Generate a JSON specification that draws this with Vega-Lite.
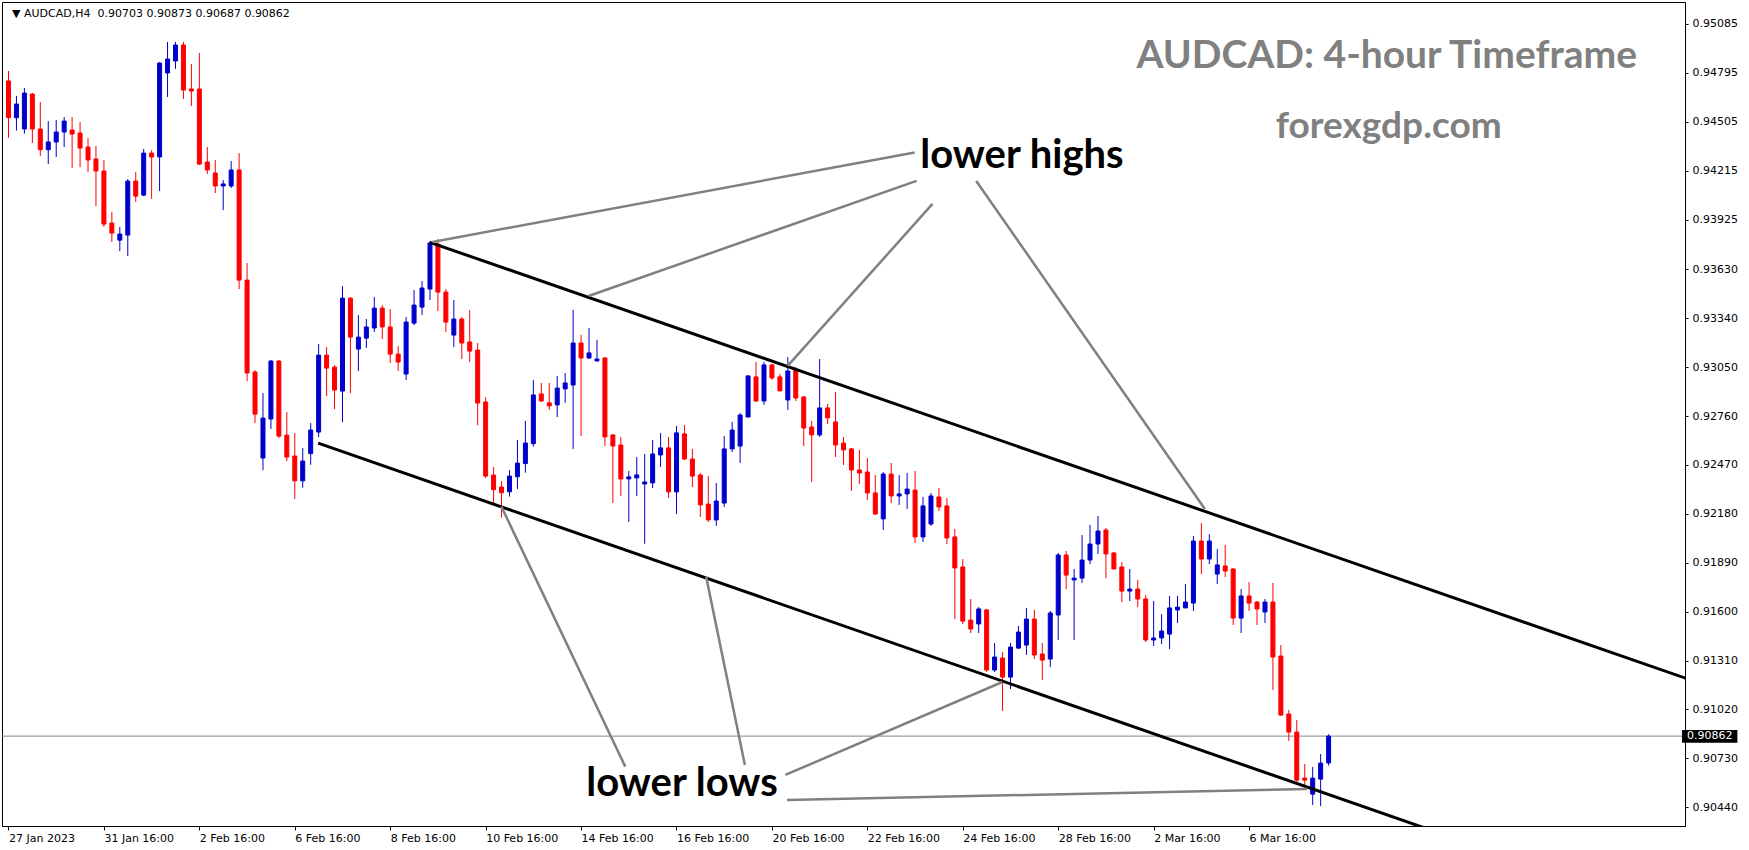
{
"$schema": "https://vega.github.io/schema/vega-lite/v6.json",
"autosize": {"type": "none"},
"padding": {"left": 2, "top": 2, "right": 64, "bottom": 24},
"width": 1683,
"height": 824,
"background": "white",
"config": {
"view": {"stroke": "black", "strokeWidth": 1},
"axis": {"grid": false, "labelFont": "DejaVu Sans", "labelFontSize": 11, "labelColor": "black", "tickColor": "black", "domainColor": "black", "labelOverlap": false, "labelFlush": false},
"axisX": {"tickSize": 4, "labelAlign": "left", "labelBaseline": "top", "labelPadding": 2},
"axisY": {"tickSize": 3, "labelPadding": 4}
},
"datasets": {
"candles": [
{"i":0,"o":0.94747,"h":0.94806,"l":0.94410,"c":0.94529},
{"i":1,"o":0.94529,"h":0.94658,"l":0.94452,"c":0.94610},
{"i":2,"o":0.94462,"h":0.94705,"l":0.94434,"c":0.94675},
{"i":3,"o":0.94669,"h":0.94677,"l":0.94379,"c":0.94462},
{"i":4,"o":0.94462,"h":0.94622,"l":0.94302,"c":0.94339},
{"i":5,"o":0.94339,"h":0.94509,"l":0.94254,"c":0.94385},
{"i":6,"o":0.94385,"h":0.94515,"l":0.94296,"c":0.94444},
{"i":7,"o":0.94444,"h":0.94533,"l":0.94355,"c":0.94509},
{"i":8,"o":0.94456,"h":0.94533,"l":0.94231,"c":0.94432},
{"i":9,"o":0.94438,"h":0.94503,"l":0.94236,"c":0.94349},
{"i":10,"o":0.94355,"h":0.94408,"l":0.94207,"c":0.94278},
{"i":11,"o":0.94284,"h":0.94361,"l":0.94005,"c":0.94213},
{"i":12,"o":0.94213,"h":0.94278,"l":0.93881,"c":0.93898},
{"i":13,"o":0.93904,"h":0.93970,"l":0.93792,"c":0.93845},
{"i":14,"o":0.93803,"h":0.93881,"l":0.93738,"c":0.93839},
{"i":15,"o":0.93833,"h":0.94165,"l":0.93709,"c":0.94153},
{"i":16,"o":0.94153,"h":0.94207,"l":0.94029,"c":0.94064},
{"i":17,"o":0.94070,"h":0.94343,"l":0.94064,"c":0.94319},
{"i":18,"o":0.94319,"h":0.94337,"l":0.94047,"c":0.94296},
{"i":19,"o":0.94296,"h":0.94859,"l":0.94094,"c":0.94853},
{"i":20,"o":0.94794,"h":0.94978,"l":0.94652,"c":0.94877},
{"i":21,"o":0.94865,"h":0.94978,"l":0.94818,"c":0.94960},
{"i":22,"o":0.94960,"h":0.94978,"l":0.94640,"c":0.94693},
{"i":23,"o":0.94699,"h":0.94847,"l":0.94598,"c":0.94687},
{"i":24,"o":0.94699,"h":0.94913,"l":0.94248,"c":0.94254},
{"i":25,"o":0.94266,"h":0.94355,"l":0.94195,"c":0.94219},
{"i":26,"o":0.94201,"h":0.94278,"l":0.94082,"c":0.94124},
{"i":27,"o":0.94124,"h":0.94159,"l":0.93981,"c":0.94136},
{"i":28,"o":0.94124,"h":0.94272,"l":0.94112,"c":0.94219},
{"i":29,"o":0.94219,"h":0.94319,"l":0.93513,"c":0.93566},
{"i":30,"o":0.93566,"h":0.93667,"l":0.92967,"c":0.93015},
{"i":31,"o":0.93021,"h":0.93033,"l":0.92718,"c":0.92771},
{"i":32,"o":0.92511,"h":0.92896,"l":0.92439,"c":0.92748},
{"i":33,"o":0.92742,"h":0.93092,"l":0.92683,"c":0.93086},
{"i":34,"o":0.93086,"h":0.93092,"l":0.92629,"c":0.92641},
{"i":35,"o":0.92647,"h":0.92783,"l":0.92493,"c":0.92517},
{"i":36,"o":0.92523,"h":0.92659,"l":0.92268,"c":0.92376},
{"i":37,"o":0.92376,"h":0.92570,"l":0.92335,"c":0.92493},
{"i":38,"o":0.92537,"h":0.92718,"l":0.92471,"c":0.92677},
{"i":39,"o":0.92665,"h":0.93187,"l":0.92635,"c":0.93121},
{"i":40,"o":0.93121,"h":0.93169,"l":0.92878,"c":0.93044},
{"i":41,"o":0.93050,"h":0.93062,"l":0.92801,"c":0.92914},
{"i":42,"o":0.92908,"h":0.93531,"l":0.92724,"c":0.93459},
{"i":43,"o":0.93459,"h":0.93465,"l":0.92896,"c":0.93228},
{"i":44,"o":0.93157,"h":0.93359,"l":0.93027,"c":0.93228},
{"i":45,"o":0.93222,"h":0.93335,"l":0.93163,"c":0.93288},
{"i":46,"o":0.93282,"h":0.93465,"l":0.93258,"c":0.93400},
{"i":47,"o":0.93400,"h":0.93418,"l":0.93216,"c":0.93288},
{"i":48,"o":0.93288,"h":0.93394,"l":0.93074,"c":0.93127},
{"i":49,"o":0.93127,"h":0.93175,"l":0.93027,"c":0.93080},
{"i":50,"o":0.93009,"h":0.93347,"l":0.92973,"c":0.93317},
{"i":51,"o":0.93311,"h":0.93507,"l":0.93299,"c":0.93418},
{"i":52,"o":0.93406,"h":0.93560,"l":0.93359,"c":0.93519},
{"i":53,"o":0.93513,"h":0.93798,"l":0.93448,"c":0.93786},
{"i":54,"o":0.93780,"h":0.93809,"l":0.93382,"c":0.93495},
{"i":55,"o":0.93495,"h":0.93513,"l":0.93258,"c":0.93317},
{"i":56,"o":0.93240,"h":0.93448,"l":0.93169,"c":0.93335},
{"i":57,"o":0.93335,"h":0.93347,"l":0.93098,"c":0.93193},
{"i":58,"o":0.93199,"h":0.93388,"l":0.93080,"c":0.93145},
{"i":59,"o":0.93151,"h":0.93193,"l":0.92706,"c":0.92837},
{"i":60,"o":0.92843,"h":0.92872,"l":0.92392,"c":0.92404},
{"i":61,"o":0.92410,"h":0.92457,"l":0.92242,"c":0.92323},
{"i":62,"o":0.92339,"h":0.92375,"l":0.92157,"c":0.92305},
{"i":63,"o":0.92311,"h":0.92440,"l":0.92282,"c":0.92404},
{"i":64,"o":0.92400,"h":0.92618,"l":0.92327,"c":0.92481},
{"i":65,"o":0.92478,"h":0.92731,"l":0.92424,"c":0.92600},
{"i":66,"o":0.92596,"h":0.92974,"l":0.92578,"c":0.92885},
{"i":67,"o":0.92891,"h":0.92956,"l":0.92843,"c":0.92849},
{"i":68,"o":0.92838,"h":0.92956,"l":0.92796,"c":0.92820},
{"i":69,"o":0.92826,"h":0.92998,"l":0.92754,"c":0.92926},
{"i":70,"o":0.92921,"h":0.93015,"l":0.92838,"c":0.92956},
{"i":71,"o":0.92944,"h":0.93389,"l":0.92565,"c":0.93193},
{"i":72,"o":0.93193,"h":0.93241,"l":0.92642,"c":0.93104},
{"i":73,"o":0.93104,"h":0.93282,"l":0.93098,"c":0.93134},
{"i":74,"o":0.93087,"h":0.93211,"l":0.93081,"c":0.93098},
{"i":75,"o":0.93104,"h":0.93110,"l":0.92582,"c":0.92636},
{"i":76,"o":0.92648,"h":0.92648,"l":0.92244,"c":0.92582},
{"i":77,"o":0.92588,"h":0.92636,"l":0.92286,"c":0.92387},
{"i":78,"o":0.92387,"h":0.92434,"l":0.92132,"c":0.92399},
{"i":79,"o":0.92393,"h":0.92517,"l":0.92286,"c":0.92411},
{"i":80,"o":0.92357,"h":0.92535,"l":0.92003,"c":0.92369},
{"i":81,"o":0.92363,"h":0.92618,"l":0.92333,"c":0.92535},
{"i":82,"o":0.92529,"h":0.92660,"l":0.92458,"c":0.92571},
{"i":83,"o":0.92571,"h":0.92636,"l":0.92274,"c":0.92310},
{"i":84,"o":0.92310,"h":0.92701,"l":0.92179,"c":0.92660},
{"i":85,"o":0.92654,"h":0.92707,"l":0.92499,"c":0.92505},
{"i":86,"o":0.92505,"h":0.92565,"l":0.92339,"c":0.92404},
{"i":87,"o":0.92410,"h":0.92422,"l":0.92161,"c":0.92233},
{"i":88,"o":0.92238,"h":0.92405,"l":0.92132,"c":0.92144},
{"i":89,"o":0.92144,"h":0.92363,"l":0.92108,"c":0.92256},
{"i":90,"o":0.92244,"h":0.92642,"l":0.92221,"c":0.92565},
{"i":91,"o":0.92565,"h":0.92725,"l":0.92547,"c":0.92677},
{"i":92,"o":0.92582,"h":0.92778,"l":0.92482,"c":0.92766},
{"i":93,"o":0.92754,"h":0.92998,"l":0.92754,"c":0.92998},
{"i":94,"o":0.92992,"h":0.93081,"l":0.92843,"c":0.92849},
{"i":95,"o":0.92849,"h":0.93081,"l":0.92826,"c":0.93063},
{"i":96,"o":0.93063,"h":0.93069,"l":0.92974,"c":0.92986},
{"i":97,"o":0.92992,"h":0.93010,"l":0.92909,"c":0.92909},
{"i":98,"o":0.92855,"h":0.93110,"l":0.92796,"c":0.93027},
{"i":99,"o":0.93033,"h":0.93051,"l":0.92849,"c":0.92867},
{"i":100,"o":0.92873,"h":0.92879,"l":0.92582,"c":0.92689},
{"i":101,"o":0.92695,"h":0.92731,"l":0.92369,"c":0.92648},
{"i":102,"o":0.92648,"h":0.93098,"l":0.92636,"c":0.92808},
{"i":103,"o":0.92808,"h":0.92832,"l":0.92713,"c":0.92749},
{"i":104,"o":0.92725,"h":0.92903,"l":0.92517,"c":0.92588},
{"i":105,"o":0.92600,"h":0.92636,"l":0.92470,"c":0.92559},
{"i":106,"o":0.92565,"h":0.92571,"l":0.92316,"c":0.92440},
{"i":107,"o":0.92440,"h":0.92559,"l":0.92357,"c":0.92422},
{"i":108,"o":0.92428,"h":0.92511,"l":0.92262,"c":0.92304},
{"i":109,"o":0.92304,"h":0.92410,"l":0.92173,"c":0.92179},
{"i":110,"o":0.92150,"h":0.92428,"l":0.92084,"c":0.92416},
{"i":111,"o":0.92416,"h":0.92482,"l":0.92244,"c":0.92286},
{"i":112,"o":0.92286,"h":0.92410,"l":0.92233,"c":0.92298},
{"i":113,"o":0.92298,"h":0.92422,"l":0.92209,"c":0.92327},
{"i":114,"o":0.92321,"h":0.92434,"l":0.92007,"c":0.92043},
{"i":115,"o":0.92043,"h":0.92280,"l":0.92013,"c":0.92227},
{"i":116,"o":0.92120,"h":0.92304,"l":0.92108,"c":0.92286},
{"i":117,"o":0.92280,"h":0.92333,"l":0.92197,"c":0.92221},
{"i":118,"o":0.92227,"h":0.92274,"l":0.92001,"c":0.92037},
{"i":119,"o":0.92043,"h":0.92090,"l":0.91556,"c":0.91859},
{"i":120,"o":0.91865,"h":0.91912,"l":0.91527,"c":0.91544},
{"i":121,"o":0.91550,"h":0.91675,"l":0.91473,"c":0.91497},
{"i":122,"o":0.91527,"h":0.91627,"l":0.91473,"c":0.91616},
{"i":123,"o":0.91610,"h":0.91616,"l":0.91242,"c":0.91254},
{"i":124,"o":0.91254,"h":0.91414,"l":0.91242,"c":0.91331},
{"i":125,"o":0.91325,"h":0.91361,"l":0.91011,"c":0.91212},
{"i":126,"o":0.91212,"h":0.91414,"l":0.91141,"c":0.91390},
{"i":127,"o":0.91384,"h":0.91515,"l":0.91378,"c":0.91479},
{"i":128,"o":0.91402,"h":0.91622,"l":0.91343,"c":0.91556},
{"i":129,"o":0.91556,"h":0.91610,"l":0.91319,"c":0.91343},
{"i":130,"o":0.91349,"h":0.91414,"l":0.91195,"c":0.91313},
{"i":131,"o":0.91319,"h":0.91604,"l":0.91272,"c":0.91592},
{"i":132,"o":0.91580,"h":0.91948,"l":0.91432,"c":0.91936},
{"i":133,"o":0.91936,"h":0.91960,"l":0.91734,"c":0.91817},
{"i":134,"o":0.91788,"h":0.91853,"l":0.91432,"c":0.91799},
{"i":135,"o":0.91799,"h":0.92054,"l":0.91770,"c":0.91906},
{"i":136,"o":0.91906,"h":0.92114,"l":0.91882,"c":0.92001},
{"i":137,"o":0.92001,"h":0.92167,"l":0.91942,"c":0.92078},
{"i":138,"o":0.92084,"h":0.92096,"l":0.91799,"c":0.91942},
{"i":139,"o":0.91948,"h":0.91954,"l":0.91853,"c":0.91853},
{"i":140,"o":0.91865,"h":0.91894,"l":0.91657,"c":0.91722},
{"i":141,"o":0.91722,"h":0.91853,"l":0.91663,"c":0.91734},
{"i":142,"o":0.91734,"h":0.91788,"l":0.91627,"c":0.91675},
{"i":143,"o":0.91675,"h":0.91699,"l":0.91420,"c":0.91432},
{"i":144,"o":0.91432,"h":0.91663,"l":0.91396,"c":0.91444},
{"i":145,"o":0.91444,"h":0.91586,"l":0.91408,"c":0.91485},
{"i":146,"o":0.91467,"h":0.91693,"l":0.91378,"c":0.91622},
{"i":147,"o":0.91610,"h":0.91693,"l":0.91533,"c":0.91627},
{"i":148,"o":0.91622,"h":0.91764,"l":0.91622,"c":0.91657},
{"i":149,"o":0.91651,"h":0.92049,"l":0.91604,"c":0.92019},
{"i":150,"o":0.92019,"h":0.92126,"l":0.91823,"c":0.91912},
{"i":151,"o":0.91912,"h":0.92060,"l":0.91882,"c":0.92019},
{"i":152,"o":0.91823,"h":0.91971,"l":0.91764,"c":0.91877},
{"i":153,"o":0.91871,"h":0.91995,"l":0.91805,"c":0.91841},
{"i":154,"o":0.91853,"h":0.91859,"l":0.91521,"c":0.91562},
{"i":155,"o":0.91562,"h":0.91734,"l":0.91473,"c":0.91693},
{"i":156,"o":0.91693,"h":0.91776,"l":0.91604,"c":0.91651},
{"i":157,"o":0.91657,"h":0.91663,"l":0.91521,"c":0.91616},
{"i":158,"o":0.91598,"h":0.91675,"l":0.91533,"c":0.91657},
{"i":159,"o":0.91657,"h":0.91770,"l":0.91135,"c":0.91331},
{"i":160,"o":0.91337,"h":0.91402,"l":0.90981,"c":0.90987},
{"i":161,"o":0.90993,"h":0.91017,"l":0.90833,"c":0.90886},
{"i":162,"o":0.90886,"h":0.90957,"l":0.90578,"c":0.90601},
{"i":163,"o":0.90613,"h":0.90696,"l":0.90572,"c":0.90601},
{"i":164,"o":0.90518,"h":0.90679,"l":0.90453,"c":0.90613},
{"i":165,"o":0.90607,"h":0.90756,"l":0.90447,"c":0.90702},
{"i":166,"o":0.90703,"h":0.90873,"l":0.90687,"c":0.90862}
],
"channels": [
{"id":"upper","i":52.98,"p":0.93790},
{"id":"upper","i":215,"p":0.91138},
{"id":"lower","i":38.94,"p":0.92599},
{"id":"lower","i":180,"p":0.90286}
],
"pointers": [
{"id":"g1","i":53.31,"p":0.93792},{"id":"g1","i":113.94,"p":0.94323},
{"id":"g2","i":72.94,"p":0.93472},{"id":"g2","i":114.19,"p":0.94154},
{"id":"g3","i":97.98,"p":0.93057},{"id":"g3","i":116.19,"p":0.94018},
{"id":"g4","i":121.69,"p":0.94154},{"id":"g4","i":150.44,"p":0.92209},
{"id":"g5","i":61.98,"p":0.92223},{"id":"g5","i":77.56,"p":0.90681},
{"id":"g6","i":87.73,"p":0.91807},{"id":"g6","i":92.6,"p":0.90691},
{"id":"g7","i":97.69,"p":0.90632},{"id":"g7","i":124.98,"p":0.91183},
{"id":"g8","i":97.9,"p":0.90483},{"id":"g8","i":163.31,"p":0.90549}
]
},
"layer": [
{
"data": {"values": [{"p": 0.90862, "i": 100}]},
"mark": {"type": "rule", "color": "#778899", "strokeWidth": 1},
"encoding": {
"y": {"field": "p", "type": "quantitative",
"scale": {"domain": [0.90329, 0.95215], "nice": false, "zero": false},
"axis": {"orient": "right", "title": null,
"values": [0.95085,0.94795,0.94505,0.94215,0.93925,0.93630,0.93340,0.93050,0.92760,0.92470,0.92180,0.91890,0.91600,0.91310,0.91020,0.90730,0.90440],
"format": ".5f"}}
}
},
{
"data": {"name": "candles"},
"mark": {"type": "rule", "strokeWidth": 1},
"encoding": {
"x": {"field": "i", "type": "quantitative",
"scale": {"domain": [-0.1875, 210.1875], "nice": false, "zero": false},
"axis": {"title": null,
"values": [0,12,24,36,48,60,72,84,96,108,120,132,144,156],
"labelExpr": "['27 Jan 2023','31 Jan 16:00','2 Feb 16:00','6 Feb 16:00','8 Feb 16:00','10 Feb 16:00','14 Feb 16:00','16 Feb 16:00','20 Feb 16:00','22 Feb 16:00','24 Feb 16:00','28 Feb 16:00','2 Mar 16:00','6 Mar 16:00'][round(datum.value/12)]"}},
"y": {"field": "l", "type": "quantitative",
"scale": {"domain": [0.90329, 0.95215], "nice": false, "zero": false},
"axis": {"orient": "right", "title": null,
"values": [0.95085,0.94795,0.94505,0.94215,0.93925,0.93630,0.93340,0.93050,0.92760,0.92470,0.92180,0.91890,0.91600,0.91310,0.91020,0.90730,0.90440],
"format": ".5f"}},
"y2": {"field": "h"},
"color": {"condition": {"test": "datum.c >= datum.o", "value": "#0000cc"}, "value": "#ff0000"}
}
},
{
"data": {"name": "candles"},
"mark": {"type": "bar", "size": 4, "strokeWidth": 1},
"encoding": {
"x": {"field": "i", "type": "quantitative",
"scale": {"domain": [-0.1875, 210.1875], "nice": false, "zero": false},
"axis": {"title": null,
"values": [0,12,24,36,48,60,72,84,96,108,120,132,144,156],
"labelExpr": "['27 Jan 2023','31 Jan 16:00','2 Feb 16:00','6 Feb 16:00','8 Feb 16:00','10 Feb 16:00','14 Feb 16:00','16 Feb 16:00','20 Feb 16:00','22 Feb 16:00','24 Feb 16:00','28 Feb 16:00','2 Mar 16:00','6 Mar 16:00'][round(datum.value/12)]"}},
"y": {"field": "o", "type": "quantitative",
"scale": {"domain": [0.90329, 0.95215], "nice": false, "zero": false},
"axis": {"orient": "right", "title": null,
"values": [0.95085,0.94795,0.94505,0.94215,0.93925,0.93630,0.93340,0.93050,0.92760,0.92470,0.92180,0.91890,0.91600,0.91310,0.91020,0.90730,0.90440],
"format": ".5f"}},
"y2": {"field": "c"},
"fill": {"condition": {"test": "datum.c >= datum.o", "value": "#0000cc"}, "value": "#ff0000"},
"stroke": {"condition": {"test": "datum.c >= datum.o", "value": "#0000cc"}, "value": "#ff0000"}
}
},
{
"data": {"name": "channels"},
"mark": {"type": "line", "color": "black", "strokeWidth": 3, "clip": true},
"encoding": {
"x": {"field": "i", "type": "quantitative",
"scale": {"domain": [-0.1875, 210.1875], "nice": false, "zero": false},
"axis": {"title": null,
"values": [0,12,24,36,48,60,72,84,96,108,120,132,144,156],
"labelExpr": "['27 Jan 2023','31 Jan 16:00','2 Feb 16:00','6 Feb 16:00','8 Feb 16:00','10 Feb 16:00','14 Feb 16:00','16 Feb 16:00','20 Feb 16:00','22 Feb 16:00','24 Feb 16:00','28 Feb 16:00','2 Mar 16:00','6 Mar 16:00'][round(datum.value/12)]"}},
"y": {"field": "p", "type": "quantitative",
"scale": {"domain": [0.90329, 0.95215], "nice": false, "zero": false},
"axis": {"orient": "right", "title": null,
"values": [0.95085,0.94795,0.94505,0.94215,0.93925,0.93630,0.93340,0.93050,0.92760,0.92470,0.92180,0.91890,0.91600,0.91310,0.91020,0.90730,0.90440],
"format": ".5f"}},
"detail": {"field": "id"}
}
},
{
"data": {"name": "pointers"},
"mark": {"type": "line", "color": "#808080", "strokeWidth": 2.5, "clip": true},
"encoding": {
"x": {"field": "i", "type": "quantitative",
"scale": {"domain": [-0.1875, 210.1875], "nice": false, "zero": false},
"axis": {"title": null,
"values": [0,12,24,36,48,60,72,84,96,108,120,132,144,156],
"labelExpr": "['27 Jan 2023','31 Jan 16:00','2 Feb 16:00','6 Feb 16:00','8 Feb 16:00','10 Feb 16:00','14 Feb 16:00','16 Feb 16:00','20 Feb 16:00','22 Feb 16:00','24 Feb 16:00','28 Feb 16:00','2 Mar 16:00','6 Mar 16:00'][round(datum.value/12)]"}},
"y": {"field": "p", "type": "quantitative",
"scale": {"domain": [0.90329, 0.95215], "nice": false, "zero": false},
"axis": {"orient": "right", "title": null,
"values": [0.95085,0.94795,0.94505,0.94215,0.93925,0.93630,0.93340,0.93050,0.92760,0.92470,0.92180,0.91890,0.91600,0.91310,0.91020,0.90730,0.90440],
"format": ".5f"}},
"detail": {"field": "id"}
}
},
{
"data": {"values": [{"i": 127.44, "p": 0.94229, "t": "lower highs"}, {"i": 84.69, "p": 0.90507, "t": "lower lows"}]},
"mark": {"type": "text", "font": "Lato", "fontWeight": "bold", "fontSize": 40, "color": "black", "align": "center", "baseline": "alphabetic"},
"encoding": {
"x": {"field": "i", "type": "quantitative",
"scale": {"domain": [-0.1875, 210.1875], "nice": false, "zero": false},
"axis": {"title": null,
"values": [0,12,24,36,48,60,72,84,96,108,120,132,144,156],
"labelExpr": "['27 Jan 2023','31 Jan 16:00','2 Feb 16:00','6 Feb 16:00','8 Feb 16:00','10 Feb 16:00','14 Feb 16:00','16 Feb 16:00','20 Feb 16:00','22 Feb 16:00','24 Feb 16:00','28 Feb 16:00','2 Mar 16:00','6 Mar 16:00'][round(datum.value/12)]"}},
"y": {"field": "p", "type": "quantitative",
"scale": {"domain": [0.90329, 0.95215], "nice": false, "zero": false},
"axis": {"orient": "right", "title": null,
"values": [0.95085,0.94795,0.94505,0.94215,0.93925,0.93630,0.93340,0.93050,0.92760,0.92470,0.92180,0.91890,0.91600,0.91310,0.91020,0.90730,0.90440],
"format": ".5f"}},
"text": {"field": "t"}
}
},
{
"data": {"values": [{"i": 173.31, "p": 0.94824, "t": "AUDCAD: 4-hour Timeframe"}]},
"mark": {"type": "text", "font": "Lato", "fontWeight": "bold", "fontSize": 39, "color": "#808080", "align": "center", "baseline": "alphabetic"},
"encoding": {
"x": {"field": "i", "type": "quantitative",
"scale": {"domain": [-0.1875, 210.1875], "nice": false, "zero": false},
"axis": {"title": null,
"values": [0,12,24,36,48,60,72,84,96,108,120,132,144,156],
"labelExpr": "['27 Jan 2023','31 Jan 16:00','2 Feb 16:00','6 Feb 16:00','8 Feb 16:00','10 Feb 16:00','14 Feb 16:00','16 Feb 16:00','20 Feb 16:00','22 Feb 16:00','24 Feb 16:00','28 Feb 16:00','2 Mar 16:00','6 Mar 16:00'][round(datum.value/12)]"}},
"y": {"field": "p", "type": "quantitative",
"scale": {"domain": [0.90329, 0.95215], "nice": false, "zero": false},
"axis": {"orient": "right", "title": null,
"values": [0.95085,0.94795,0.94505,0.94215,0.93925,0.93630,0.93340,0.93050,0.92760,0.92470,0.92180,0.91890,0.91600,0.91310,0.91020,0.90730,0.90440],
"format": ".5f"}},
"text": {"field": "t"}
}
},
{
"data": {"values": [{"i": 173.56, "p": 0.94411, "t": "forexgdp.com"}]},
"mark": {"type": "text", "font": "Lato", "fontWeight": "bold", "fontSize": 37, "color": "#808080", "align": "center", "baseline": "alphabetic"},
"encoding": {
"x": {"field": "i", "type": "quantitative",
"scale": {"domain": [-0.1875, 210.1875], "nice": false, "zero": false},
"axis": {"title": null,
"values": [0,12,24,36,48,60,72,84,96,108,120,132,144,156],
"labelExpr": "['27 Jan 2023','31 Jan 16:00','2 Feb 16:00','6 Feb 16:00','8 Feb 16:00','10 Feb 16:00','14 Feb 16:00','16 Feb 16:00','20 Feb 16:00','22 Feb 16:00','24 Feb 16:00','28 Feb 16:00','2 Mar 16:00','6 Mar 16:00'][round(datum.value/12)]"}},
"y": {"field": "p", "type": "quantitative",
"scale": {"domain": [0.90329, 0.95215], "nice": false, "zero": false},
"axis": {"orient": "right", "title": null,
"values": [0.95085,0.94795,0.94505,0.94215,0.93925,0.93630,0.93340,0.93050,0.92760,0.92470,0.92180,0.91890,0.91600,0.91310,0.91020,0.90730,0.90440],
"format": ".5f"}},
"text": {"field": "t"}
}
},
{
"data": {"values": [{"i": 0.44, "p": 0.95141, "t": "▼ AUDCAD,H4\u00a0\u00a00.90703 0.90873 0.90687 0.90862"}]},
"mark": {"type": "text", "font": "DejaVu Sans", "fontSize": 11, "color": "black", "align": "left", "baseline": "middle"},
"encoding": {
"x": {"field": "i", "type": "quantitative",
"scale": {"domain": [-0.1875, 210.1875], "nice": false, "zero": false},
"axis": {"title": null,
"values": [0,12,24,36,48,60,72,84,96,108,120,132,144,156],
"labelExpr": "['27 Jan 2023','31 Jan 16:00','2 Feb 16:00','6 Feb 16:00','8 Feb 16:00','10 Feb 16:00','14 Feb 16:00','16 Feb 16:00','20 Feb 16:00','22 Feb 16:00','24 Feb 16:00','28 Feb 16:00','2 Mar 16:00','6 Mar 16:00'][round(datum.value/12)]"}},
"y": {"field": "p", "type": "quantitative",
"scale": {"domain": [0.90329, 0.95215], "nice": false, "zero": false},
"axis": {"orient": "right", "title": null,
"values": [0.95085,0.94795,0.94505,0.94215,0.93925,0.93630,0.93340,0.93050,0.92760,0.92470,0.92180,0.91890,0.91600,0.91310,0.91020,0.90730,0.90440],
"format": ".5f"}},
"text": {"field": "t"}
}
},
{
"data": {"values": [{"i0": 210.44, "i1": 217.4, "p0": 0.90898, "p1": 0.90822}]},
"mark": {"type": "rect", "color": "black"},
"encoding": {
"x": {"field": "i0", "type": "quantitative",
"scale": {"domain": [-0.1875, 210.1875], "nice": false, "zero": false},
"axis": {"title": null,
"values": [0,12,24,36,48,60,72,84,96,108,120,132,144,156],
"labelExpr": "['27 Jan 2023','31 Jan 16:00','2 Feb 16:00','6 Feb 16:00','8 Feb 16:00','10 Feb 16:00','14 Feb 16:00','16 Feb 16:00','20 Feb 16:00','22 Feb 16:00','24 Feb 16:00','28 Feb 16:00','2 Mar 16:00','6 Mar 16:00'][round(datum.value/12)]"}},
"x2": {"field": "i1"},
"y": {"field": "p0", "type": "quantitative",
"scale": {"domain": [0.90329, 0.95215], "nice": false, "zero": false},
"axis": {"orient": "right", "title": null,
"values": [0.95085,0.94795,0.94505,0.94215,0.93925,0.93630,0.93340,0.93050,0.92760,0.92470,0.92180,0.91890,0.91600,0.91310,0.91020,0.90730,0.90440],
"format": ".5f"}},
"y2": {"field": "p1"}
}
},
{
"data": {"values": [{"i": 211.06, "p": 0.90862, "t": "0.90862"}]},
"mark": {"type": "text", "font": "DejaVu Sans", "fontSize": 11, "color": "white", "align": "left", "baseline": "middle"},
"encoding": {
"x": {"field": "i", "type": "quantitative",
"scale": {"domain": [-0.1875, 210.1875], "nice": false, "zero": false},
"axis": {"title": null,
"values": [0,12,24,36,48,60,72,84,96,108,120,132,144,156],
"labelExpr": "['27 Jan 2023','31 Jan 16:00','2 Feb 16:00','6 Feb 16:00','8 Feb 16:00','10 Feb 16:00','14 Feb 16:00','16 Feb 16:00','20 Feb 16:00','22 Feb 16:00','24 Feb 16:00','28 Feb 16:00','2 Mar 16:00','6 Mar 16:00'][round(datum.value/12)]"}},
"y": {"field": "p", "type": "quantitative",
"scale": {"domain": [0.90329, 0.95215], "nice": false, "zero": false},
"axis": {"orient": "right", "title": null,
"values": [0.95085,0.94795,0.94505,0.94215,0.93925,0.93630,0.93340,0.93050,0.92760,0.92470,0.92180,0.91890,0.91600,0.91310,0.91020,0.90730,0.90440],
"format": ".5f"}},
"text": {"field": "t"}
}
}
]
}
